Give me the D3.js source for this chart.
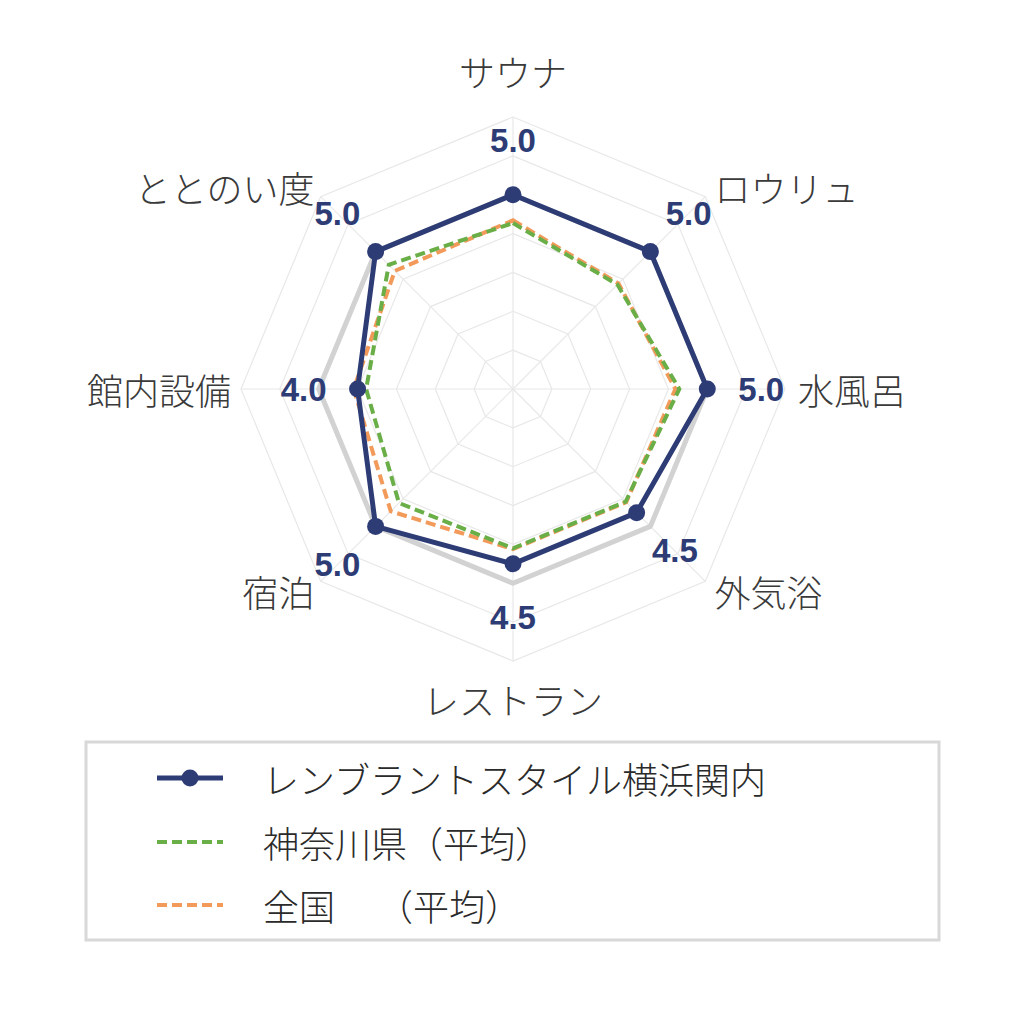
<!DOCTYPE html>
<html><head><meta charset="utf-8">
<script src="https://cdn.jsdelivr.net/npm/d3@7"></script>
<style>body{margin:0;background:#fff;} svg{display:block;}</style>
</head><body>
<svg id="c" width="1024" height="1024"></svg>
<script>
const categories = ["サウナ","ロウリュ","水風呂","外気浴","レストラン","宿泊","館内設備","ととのい度"];
const facilityValues = [5.0, 5.0, 5.0, 4.5, 4.5, 5.0, 4.0, 5.0];
const kanagawaValues = [4.27, 3.8, 4.28, 4.1, 4.1, 4.15, 3.78, 4.52];
const nationalValues = [4.34, 3.84, 4.18, 4.12, 4.12, 4.45, 4.1, 4.3];
const referenceValues = [5, 5, 5, 5, 5, 5, 5, 5];
const valueLabels = ["5.0","5.0","5.0","4.5","4.5","5.0","4.0","5.0"];
const seriesNames = [["レンブラントスタイル横浜関内"],["神奈川県（平均）"],["全国　","（平均）"]];
const gridLevels = [1,2,3,4,5,6,7];

const svg = d3.select("#c");
const cx = 513, cy = 389;
const r = d3.scaleLinear().domain([0,7]).range([0,272]);
const ang = d3.scaleLinear().domain([0, categories.length]).range([0, 2*Math.PI]);
const pt = (i, rad) => [cx + rad*Math.sin(ang(i)), cy - rad*Math.cos(ang(i))];
const NAVY = "#2e3c76", GREEN = "#6aae48", ORANGE = "#f29a5a";

const radial = d3.lineRadial().angle((d,i)=>ang(i)).radius(d=>r(d)).curve(d3.curveLinearClosed);
const g = svg.append("g").attr("transform",`translate(${cx},${cy})`);

// grid rings
gridLevels.forEach(l=>{
  g.append("path").attr("d", radial(categories.map(()=>l)))
   .attr("fill","none").attr("stroke","#e8e8e8").attr("stroke-width",1.2);
});
categories.forEach((c,i)=>{
  const [x,y] = pt(i, r(7));
  g.append("line").attr("x1",0).attr("y1",0).attr("x2",x-cx).attr("y2",y-cy)
   .attr("stroke","#e8e8e8").attr("stroke-width",1.2);
});

// reference (gray)
g.append("path").attr("d", radial(referenceValues)).attr("fill","none")
 .attr("stroke","#d2d2d2").attr("stroke-width",5).attr("stroke-linejoin","round");

// dashed series
g.append("path").attr("d", radial(nationalValues)).attr("fill","none")
 .attr("stroke",ORANGE).attr("stroke-width",4).attr("stroke-dasharray","10,5");
g.append("path").attr("d", radial(kanagawaValues)).attr("fill","none")
 .attr("stroke",GREEN).attr("stroke-width",4).attr("stroke-dasharray","10,5");

// main series
g.append("path").attr("d", radial(facilityValues)).attr("fill","none")
 .attr("stroke",NAVY).attr("stroke-width",5).attr("stroke-linejoin","round");
facilityValues.forEach((v,i)=>{
  const [x,y] = pt(i, r(v));
  svg.append("circle").attr("cx",x).attr("cy",y).attr("r",8.5).attr("fill",NAVY);
});

// value labels
facilityValues.forEach((v,i)=>{
  const [x,y] = pt(i, r(v)+54);
  svg.append("text").attr("x",x).attr("y",y).attr("text-anchor","middle")
   .attr("dominant-baseline","central")
   .attr("font-family","Liberation Sans, Arial, sans-serif").attr("font-weight","bold")
   .attr("font-size",33).attr("fill",NAVY).text(valueLabels[i]);
});

// category labels
const LR = 285;
categories.forEach((c,i)=>{
  let [x,y] = pt(i, LR);
  const s = Math.sin(ang(i)), co = Math.cos(ang(i));
  let anchor = Math.abs(s) < 0.1 ? "middle" : (s > 0 ? "start" : "end");
  let dy = 0;
  if (Math.abs(s) < 0.1) dy = co > 0 ? -33 : 25;
  svg.append("text").attr("x",x + (anchor==="end" ? 3 : 0)).attr("y",y+dy).attr("text-anchor",anchor)
   .attr("dominant-baseline","central")
   .attr("font-family","Noto Sans CJK JP, sans-serif").attr("font-weight",300)
   .attr("font-size",36).attr("fill","#3a3a3a").text(c);
});

// legend
svg.append("rect").attr("x",86).attr("y",742).attr("width",853).attr("height",198)
 .attr("fill","#fff").attr("stroke","#d8d8d8").attr("stroke-width",3);
const rows = [778, 842, 905];
const lx1 = 157, lx2 = 223;
svg.append("line").attr("x1",lx1).attr("x2",lx2).attr("y1",rows[0]).attr("y2",rows[0])
 .attr("stroke",NAVY).attr("stroke-width",5);
svg.append("circle").attr("cx",(lx1+lx2)/2).attr("cy",rows[0]).attr("r",8.5).attr("fill",NAVY);
svg.append("line").attr("x1",lx1).attr("x2",lx2).attr("y1",rows[1]).attr("y2",rows[1])
 .attr("stroke",GREEN).attr("stroke-width",4).attr("stroke-dasharray","10,5");
svg.append("line").attr("x1",lx1).attr("x2",lx2).attr("y1",rows[2]).attr("y2",rows[2])
 .attr("stroke",ORANGE).attr("stroke-width",4).attr("stroke-dasharray","10,5");
seriesNames.forEach((parts,i)=>{
  const t = svg.append("text").attr("x",263).attr("y",rows[i]).attr("dominant-baseline","central")
   .attr("font-family","Noto Sans CJK JP, sans-serif").attr("font-weight",300)
   .attr("font-size",36).attr("fill","#2a2a2a");
  parts.forEach((p,j)=>{
    t.append("tspan").attr("dx", j>0 ? 24 : 0).text(p);
  });
});
</script>
</body></html>
